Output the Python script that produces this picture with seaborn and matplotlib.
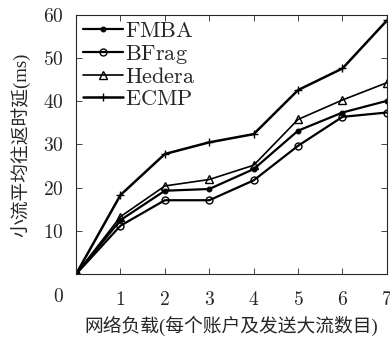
import pandas as pd
import matplotlib
matplotlib.use('Agg')
import matplotlib.pyplot as plt
import seaborn as sns

# data
loads = [0, 1, 2, 3, 4, 5, 6, 7]
fmba = [0, 12.5, 19.3, 19.7, 24.3, 33.2, 37.4, 40.1]
bfrag = [0, 11.2, 17.1, 17.1, 21.7, 29.7, 36.4, 37.4]
hedera = [0, 13.3, 20.4, 21.9, 25.2, 35.8, 40.3, 44.3]
ecmp = [0, 18.3, 27.8, 30.5, 32.4, 42.6, 47.6, 58.7]
x_ticks = [1, 2, 3, 4, 5, 6, 7]
y_ticks = [10, 20, 30, 40, 50, 60]

sns.set_style('ticks')
plt.rcParams['font.family'] = ['Liberation Serif', 'Noto Sans CJK SC']
plt.rcParams['mathtext.fontset'] = 'cm'

fig = plt.figure(figsize=(3.9, 3.38), dpi=100)
ax = fig.add_axes([0.195, 0.189, 0.797, 0.767])

series = [
    ('FMBA', fmba, dict(marker='.', markersize=7, lw=1.6, mfc='black')),
    ('BFrag', bfrag, dict(marker='o', markersize=5, lw=1.6, mfc='none', mew=1.0)),
    ('Hedera', hedera, dict(marker='^', markersize=6, lw=1.2, mfc='none', mew=1.0)),
    ('ECMP', ecmp, dict(marker='+', markersize=6, lw=1.8, mew=1.0)),
]
for name, vals, kw in series:
    df = pd.DataFrame({'x': loads, 'y': vals})
    sns.lineplot(data=df, x='x', y='y', ax=ax, color='black',
                 label='$\\mathrm{' + name + '}$', mec='black', **kw)

ax.set_xlim(0, 7)
ax.set_ylim(0, 60)
ax.set_xticks(x_ticks)
ax.set_yticks(y_ticks)
ax.set_xticklabels([f'${t}$' for t in x_ticks], fontsize=14)
ax.set_yticklabels([f'${t}$' for t in y_ticks], fontsize=14)
ax.tick_params(axis='x', direction='in', top=True, length=4, width=0.6, pad=12)
ax.tick_params(axis='y', direction='in', right=True, length=4, width=0.6, pad=9)
for s in ax.spines.values():
    s.set_linewidth(0.8)
    s.set_visible(True)

# the single "0" label sits off the corner in the reference
ax.text(-0.055, -0.09, '$0$', transform=ax.transAxes, fontsize=14,
        ha='center', va='center')

ax.set_xlabel('网络负载(每个账户及发送大流数目)', fontsize=13.5, labelpad=5)
ax.set_ylabel('小流平均往返时延(ms)', fontsize=13.5, labelpad=8)

ax.legend(loc='upper left', frameon=False, fontsize=16, handlelength=1.8,
          handletextpad=0.1, labelspacing=0.05, borderaxespad=0.1,
          borderpad=0.2)

fig.savefig('out.png', dpi=100)
